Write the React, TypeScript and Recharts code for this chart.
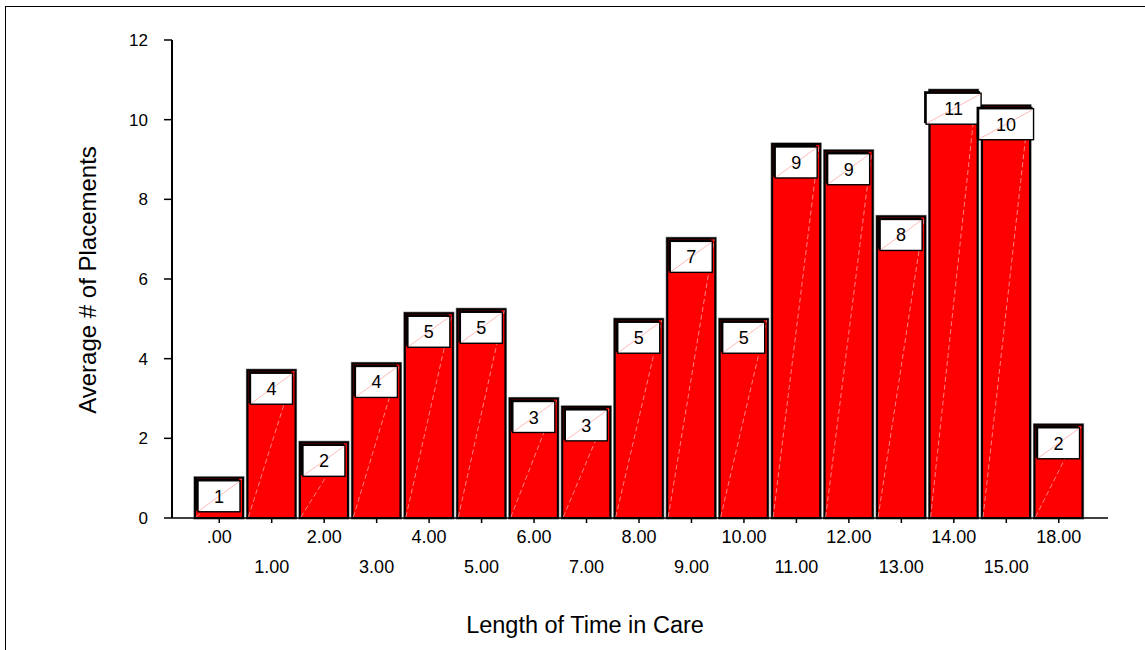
import React from 'react';
import { BarChart, Bar, XAxis, YAxis, LabelList } from 'recharts';

const categories = ['.00', '1.00', '2.00', '3.00', '4.00', '5.00', '6.00', '7.00', '8.00', '9.00', '10.00', '11.00', '12.00', '13.00', '14.00', '15.00', '18.00'];
const averages = [1.01, 3.71, 1.9, 3.88, 5.14, 5.24, 3.0, 2.79, 4.99, 7.02, 4.99, 9.39, 9.22, 7.57, 10.74, 10.35, 2.34];
const countLabels = [1, 4, 2, 4, 5, 5, 3, 3, 5, 7, 5, 9, 9, 8, 11, 10, 2];
const yTicks = [0, 2, 4, 6, 8, 10, 12];

const data = categories.map((c, i) => ({ category: c, value: averages[i], label: countLabels[i] }));

const FONT = "Arial, 'Liberation Sans', sans-serif";

const BarShape = (props: any) => {
  const { x, y, width, height } = props;
  if (width == null || height == null) return null;
  return (
    <g>
      <rect x={x} y={y} width={width} height={height} fill="#FF0000" stroke="#8a8a8a" strokeWidth={3.2} />
      <rect x={x} y={y} width={width} height={height} fill="#FF0000" stroke="#000" strokeWidth={2} />
      <line x1={x + 1} y1={y + height - 1} x2={x + width - 1} y2={y + 1} stroke="#ffb8b8" strokeWidth={0.7} strokeDasharray="5 3" />
    </g>
  );
};

const LabelBox = (props: any) => {
  const { x, y, width, value } = props;
  const lbl = String(value);
  const bw = lbl.length > 1 ? 55 : 42;
  const bh = 31;
  const cx = x + width / 2;
  const bx = cx - bw / 2;
  const by = y + 3;
  return (
    <g>
      <rect x={bx - 2} y={by - 2} width={bw + 1} height={bh + 1} fill="#000" />
      <rect x={bx} y={by} width={bw} height={bh} fill="#fff" stroke="#000" strokeWidth={1.4} />
      <line x1={bx + 1} y1={by + bh - 1} x2={bx + bw - 1} y2={by + 1} stroke="#ff9c9c" strokeWidth={0.7} />
      <text x={cx} y={by + bh / 2 + 6.5} textAnchor="middle" fontSize={18} fontFamily={FONT} fill="#000">{lbl}</text>
    </g>
  );
};

const XTick = (props: any) => {
  const { x, y, payload } = props;
  const idx = categories.indexOf(payload.value);
  const row = idx % 2;
  return (
    <text x={x} y={y + (row === 0 ? 20 : 50)} textAnchor="middle" fontSize={18} fontFamily={FONT} fill="#000">
      {payload.value}
    </text>
  );
};

export default function App() {
  return (
    <div style={{ position: 'absolute', left: 0, top: 0, width: 1145, height: 650, overflow: 'hidden', background: '#fff' }}>
      <div style={{ position: 'absolute', left: 5, top: 6, width: 1300, height: 800, border: '1.5px solid #000' }} />
      <div style={{ position: 'absolute', left: 0, top: 0 }}>
        <BarChart width={1145} height={650} data={data} margin={{ top: 40, right: 37, bottom: 72, left: 112 }} barCategoryGap={2}>
          <XAxis
            dataKey="category"
            interval={0}
            padding={{ left: 21, right: 23 }}
            height={60}
            tickSize={5}
            tickMargin={0}
            tick={<XTick />}
            tickLine={{ stroke: '#000', strokeWidth: 1.5 }}
            axisLine={{ stroke: '#000', strokeWidth: 1.5 }}
            label={() => (
              <text x={585} y={633} textAnchor="middle" fontSize={23.5} fontFamily={FONT} fill="#000">Length of Time in Care</text>
            )}
          />
          <XAxis xAxisId="top" dataKey="category" orientation="top" height={0} tick={false} tickLine={false} axisLine={{ stroke: '#000', strokeWidth: 1.2 }} />
          <YAxis
            domain={[0, 12]}
            ticks={yTicks}
            interval={0}
            width={60}
            tickSize={8}
            tickMargin={16}
            tick={{ fontSize: 17, fill: '#000', fontFamily: FONT }}
            tickLine={{ stroke: '#000', strokeWidth: 1.5 }}
            axisLine={{ stroke: '#000', strokeWidth: 2 }}
            label={() => (
              <text x={96} y={280} transform="rotate(-90 96 280)" textAnchor="middle" fontSize={24} fontFamily={FONT} fill="#000">Average # of Placements</text>
            )}
          />
          <YAxis yAxisId="right" orientation="right" domain={[0, 12]} width={0} tick={false} tickLine={false} axisLine={{ stroke: '#000', strokeWidth: 2 }} />
          <Bar dataKey="value" isAnimationActive={false} shape={<BarShape />}>
            <LabelList dataKey="label" content={<LabelBox />} />
          </Bar>
        </BarChart>
      </div>
    </div>
  );
}
